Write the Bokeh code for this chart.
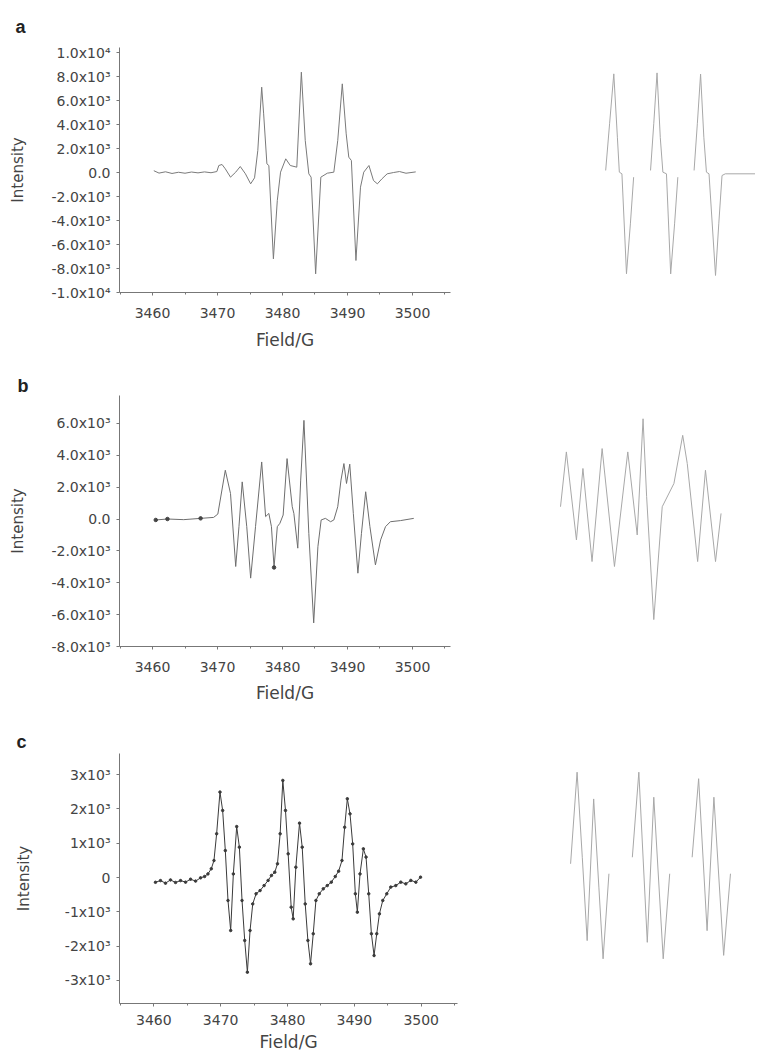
from bokeh.plotting import figure
from bokeh.layouts import column, row
from bokeh.models import Range1d, FixedTicker
from bokeh.embed import file_html
from bokeh.resources import INLINE

# ---------------- data ----------------
# Panel a, experimental spectrum
a_field = [3460.2, 3461.0, 3462.0, 3463.0, 3464.0, 3465.0, 3466.0, 3467.0, 3468.0, 3469.0, 3469.9,
           3470.2, 3470.7, 3471.2, 3472.0, 3472.8, 3473.5, 3474.3, 3475.1, 3475.7, 3476.2,
           3476.8, 3477.1, 3477.6, 3477.9, 3478.6, 3479.2, 3479.7, 3480.5, 3481.2, 3482.2,
           3482.9, 3483.5, 3484.05, 3484.4, 3485.1, 3485.9, 3486.9, 3487.9, 3488.5, 3489.2,
           3489.8, 3490.2, 3490.6, 3491.3, 3492.0, 3492.5, 3493.3, 3494.0, 3494.6, 3495.3,
           3496.1, 3497.1, 3498.0, 3499.0, 3500.5]
a_int = [150, -50, 60, -80, 20, -60, 40, -30, 50, -20, 80,
         583, 667, 306, -389, 28, 500, -111, -944, -444, 1833,
         7111, 4889, 722, 583, -7194, -2333, 28, 1139, 583, 444,
         8361, 2667, -111, -389, -8444, -389, -56, 28, 2667, 7389,
         3222, 1278, 1000, -7333, -1222, 28, 583, -667, -944, -528,
         -111, 0, 80, -60, 50]

# Panel a, simulated spectrum (three separate line groups)
a_sim_field = [[3475.8, 3476.4, 3477.05, 3477.6, 3477.9, 3478.3, 3479.0, 3479.6, 3480.1],
               [3482.7, 3483.2, 3483.7, 3484.2, 3484.6, 3485.15, 3485.8, 3486.4, 3486.9],
               [3489.4, 3489.9, 3490.4, 3490.9, 3491.3, 3491.7, 3492.7, 3493.2, 3493.7, 3494.2, 3499.8]]
a_sim_int = [[170, 4060, 8220, 2940, 30, -110, -8440, -4280, -390],
             [170, 4100, 8300, 2900, 30, -110, -8450, -4280, -390],
             [170, 4060, 8200, 2940, 30, -110, -8580, -4280, -250, -110, -110]]

# Panel b, experimental spectrum
b_field = [3460.5, 3462.3, 3464.8, 3467.4, 3469.4, 3470.05, 3471.2, 3472.0, 3472.8, 3473.3,
           3473.8, 3474.5, 3475.1, 3475.85, 3476.8, 3477.4, 3477.9, 3478.3, 3478.7, 3479.2,
           3479.6, 3480.1, 3480.7, 3481.5, 3481.75, 3482.35, 3482.8, 3483.3, 3484.05, 3484.8,
           3485.45, 3485.95, 3486.6, 3487.4, 3487.9, 3488.5, 3489.0, 3489.45, 3489.85, 3490.35,
           3490.9, 3491.6, 3492.15, 3492.8, 3493.45, 3494.3, 3495.1, 3495.85, 3496.6, 3498.15,
           3500.2]
b_int = [-60, 0, -40, 40, 100, 310, 3060, 1600, -2980, -480,
         2330, -480, -3710, -480, 3580, 150, 350, -480, -3040, -480,
         -270, 250, 3790, 770, 350, -1830, 2440, 6190, -900, -6520,
         -1730, -60, 40, -170, -60, 770, 2440, 3480, 2230, 3440,
         350, -3400, -900, 1710, -480, -2880, -1310, -480, -170, -100,
         40]
b_mark_field = [3460.5, 3462.3, 3467.4, 3478.7]
b_mark_int = [-60, 0, 40, -3040]

# Panel b, simulated spectrum
b_sim_field = [3468.85, 3469.75, 3471.3, 3472.3, 3473.7, 3475.25, 3477.15, 3479.2, 3480.65, 3481.55,
               3482.1, 3483.2, 3484.5, 3486.3, 3487.65, 3488.35, 3489.95, 3491.15, 3492.7, 3493.55]
b_sim_int = [770, 4210, -1310, 3170, -2670, 4420, -2980, 4210, -1000, 6290,
             1400, -6310, 770, 2230, 5250, 3480, -2670, 3060, -2670, 350]

# Panel c, experimental spectrum
c_field = [3460.25, 3461.0, 3461.75, 3462.5, 3463.25, 3464.0, 3464.75, 3465.5, 3466.25, 3467.0,
           3467.6, 3468.1, 3468.6, 3469.0, 3469.4, 3469.9, 3470.3, 3470.7, 3471.1, 3471.5,
           3471.9, 3472.4, 3472.8, 3473.2, 3473.6, 3474.0, 3474.4, 3474.8, 3475.3, 3475.9,
           3476.5, 3477.1, 3477.6, 3478.1, 3478.5, 3478.9, 3479.3, 3479.7, 3480.1, 3480.55,
           3480.85, 3481.25, 3481.8, 3482.2, 3482.65, 3483.05, 3483.45, 3483.85, 3484.25, 3484.75,
           3485.35, 3485.95, 3486.55, 3487.15, 3487.65, 3488.15, 3488.55, 3488.95, 3489.35, 3489.75,
           3490.15, 3490.45, 3490.85, 3491.35, 3491.75, 3492.15, 3492.55, 3492.95, 3493.35, 3493.75,
           3494.25, 3494.85, 3495.45, 3496.2, 3496.95, 3497.7, 3498.45, 3499.2, 3499.9]
c_int = [-140, -90, -165, -70, -145, -90, -135, -50, -105, -10,
         30, 105, 255, 495, 1275, 2490, 1955, 785, -670, -1545,
         105, 1485, 885, -670, -1835, -2760, -1545, -770, -475, -380,
         -235, -85, 60, 155, 400, 1275, 2830, 1955, 690, -865,
         -1205, 300, 1585, 885, -770, -1835, -2515, -1640, -670, -475,
         -330, -235, -135, 30, 185, 495, 1465, 2295, 1855, 980,
         -475, -1010, 105, 835, 595, -475, -1640, -2275, -1640, -1060,
         -670, -475, -280, -235, -135, -185, -85, -135, 10]

# Panel c, simulated spectrum (three separate line groups)
c_sim_field = [[3470.4, 3471.4, 3472.2, 3472.95, 3473.95, 3474.75, 3475.4, 3476.3],
               [3479.9, 3480.9, 3482.2, 3483.2, 3484.65, 3485.65],
               [3489.1, 3490.1, 3491.4, 3492.45, 3493.95, 3495.0]]
c_sim_int = [[400, 3070, 590, -1840, 2290, -280, -2370, 110],
             [590, 3070, -1890, 2340, -2370, 110],
             [590, 2880, -1550, 2340, -2270, 110]]

# Tick values and labels
x_ticks = [3460, 3470, 3480, 3490, 3500]
x_minor = [3455, 3465, 3475, 3485, 3495, 3505]
a_yticks = [10000, 8000, 6000, 4000, 2000, 0, -2000, -4000, -6000, -8000, -10000]
a_ylabels = ["1.0x10\u2074", "8.0x10\u00b3", "6.0x10\u00b3", "4.0x10\u00b3", "2.0x10\u00b3", "0.0",
             "-2.0x10\u00b3", "-4.0x10\u00b3", "-6.0x10\u00b3", "-8.0x10\u00b3", "-1.0x10\u2074"]
b_yticks = [6000, 4000, 2000, 0, -2000, -4000, -6000, -8000]
b_ylabels = ["6.0x10\u00b3", "4.0x10\u00b3", "2.0x10\u00b3", "0.0",
             "-2.0x10\u00b3", "-4.0x10\u00b3", "-6.0x10\u00b3", "-8.0x10\u00b3"]
c_yticks = [3000, 2000, 1000, 0, -1000, -2000, -3000]
c_ylabels = ["3x10\u00b3", "2x10\u00b3", "1x10\u00b3", "0", "-1x10\u00b3", "-2x10\u00b3", "-3x10\u00b3"]
panel_letters = ["a", "b", "c"]

# ---------------- styling ----------------
FONT = "DejaVu Sans"
TXT = "#444444"
AX = "#777777"
EXP_A = "#7a7a7a"
EXP_B = "#6e6e6e"
EXP_C = "#3a3a3a"
SIM = "#a8a8a8"


def left_fig(w, h, xr, yr, bl, br, bt, bb, yticks, ylabels, tick_stand, xlab_stand, ylab_stand,
             letter, letter_offset, letter_standoff):
    p = figure(width=w, height=h, x_range=Range1d(*xr), y_range=Range1d(*yr),
               output_backend="svg", toolbar_location=None,
               min_border_left=bl, min_border_right=br, min_border_top=bt, min_border_bottom=bb)
    p.xgrid.visible = False
    p.ygrid.visible = False
    p.outline_line_color = None
    p.xaxis.ticker = FixedTicker(ticks=x_ticks, minor_ticks=x_minor)
    p.yaxis.ticker = FixedTicker(ticks=yticks)
    p.yaxis.major_label_overrides = dict(zip(yticks, ylabels))
    for ax in (p.xaxis[0], p.yaxis[0]):
        ax.axis_line_color = AX
        ax.major_tick_line_color = AX
        ax.minor_tick_line_color = AX
        ax.major_tick_out = 3
        ax.major_tick_in = 0
        ax.minor_tick_out = 2
        ax.minor_tick_in = 0
        ax.major_label_text_font = FONT
        ax.major_label_text_font_size = "14px"
        ax.major_label_text_color = TXT
        ax.axis_label_text_font = FONT
        ax.axis_label_text_font_style = "normal"
        ax.axis_label_text_color = TXT
    p.xaxis.major_label_standoff = tick_stand
    p.yaxis.major_label_standoff = 6
    p.xaxis.axis_label = "Field/G"
    p.xaxis.axis_label_text_font_size = "17px"
    p.xaxis.axis_label_standoff = xlab_stand
    p.yaxis.axis_label = "Intensity"
    p.yaxis.axis_label_text_font_size = "15px"
    p.yaxis.axis_label_standoff = ylab_stand
    # panel letter
    p.title.text = letter
    p.title.align = "left"
    p.title.offset = letter_offset
    p.title.standoff = letter_standoff
    p.title.vertical_align = "bottom"
    p.title.text_font = "Liberation Sans"
    p.title.text_font_style = "bold"
    p.title.text_font_size = "18px"
    p.title.text_color = "#222222"
    return p


def right_fig(w, h, xr, yr):
    p = figure(width=w, height=h, x_range=Range1d(*xr), y_range=Range1d(*yr),
               output_backend="svg", toolbar_location=None, min_border=0,
               x_axis_location=None, y_axis_location=None)
    p.xgrid.visible = False
    p.ygrid.visible = False
    p.outline_line_color = None
    return p


RX = (3453.77, 3498.85)
YA = (-10000, 10417)
YB = (-8000, 7750)
YC = (-3673, 3615)

# Row a
pa = left_fig(462, 360, (3454.92, 3505.85), YA, 119, 12, 47, 68,
              a_yticks, a_ylabels, 12, 9, 21, panel_letters[0], -104, 22)
pa.line(a_field, a_int, line_color=EXP_A, line_width=1)
ra = right_fig(293, 360, RX, YA)
ra.multi_line(a_sim_field, a_sim_int, line_color=SIM, line_width=1)

# Row b
pb = left_fig(462, 345, (3454.92, 3505.85), YB, 119, 12, 35, 58,
              b_yticks, b_ylabels, 12, 8, 21, panel_letters[1], -102, 0)
pb.line(b_field, b_int, line_color=EXP_B, line_width=1)
pb.scatter(b_mark_field, b_mark_int, size=3.5, color="#444444")
rb = right_fig(293, 345, RX, YB)
rb.line(b_sim_field, b_sim_int, line_color=SIM, line_width=1)

# Row c
pc = left_fig(462, 349, (3454.87, 3505.43), YC, 119, 5, 48, 51,
              c_yticks, c_ylabels, 8, 4, 29, panel_letters[2], -103, 4)
pc.line(c_field, c_int, line_color=EXP_C, line_width=1)
pc.scatter(c_field, c_int, size=2.5, color=EXP_C)
rc = right_fig(293, 349, RX, YC)
rc.multi_line(c_sim_field, c_sim_int, line_color=SIM, line_width=1)

layout = column(row(pa, ra), row(pb, rb), row(pc, rc))

open("out.html", "w").write(file_html(layout, INLINE))
